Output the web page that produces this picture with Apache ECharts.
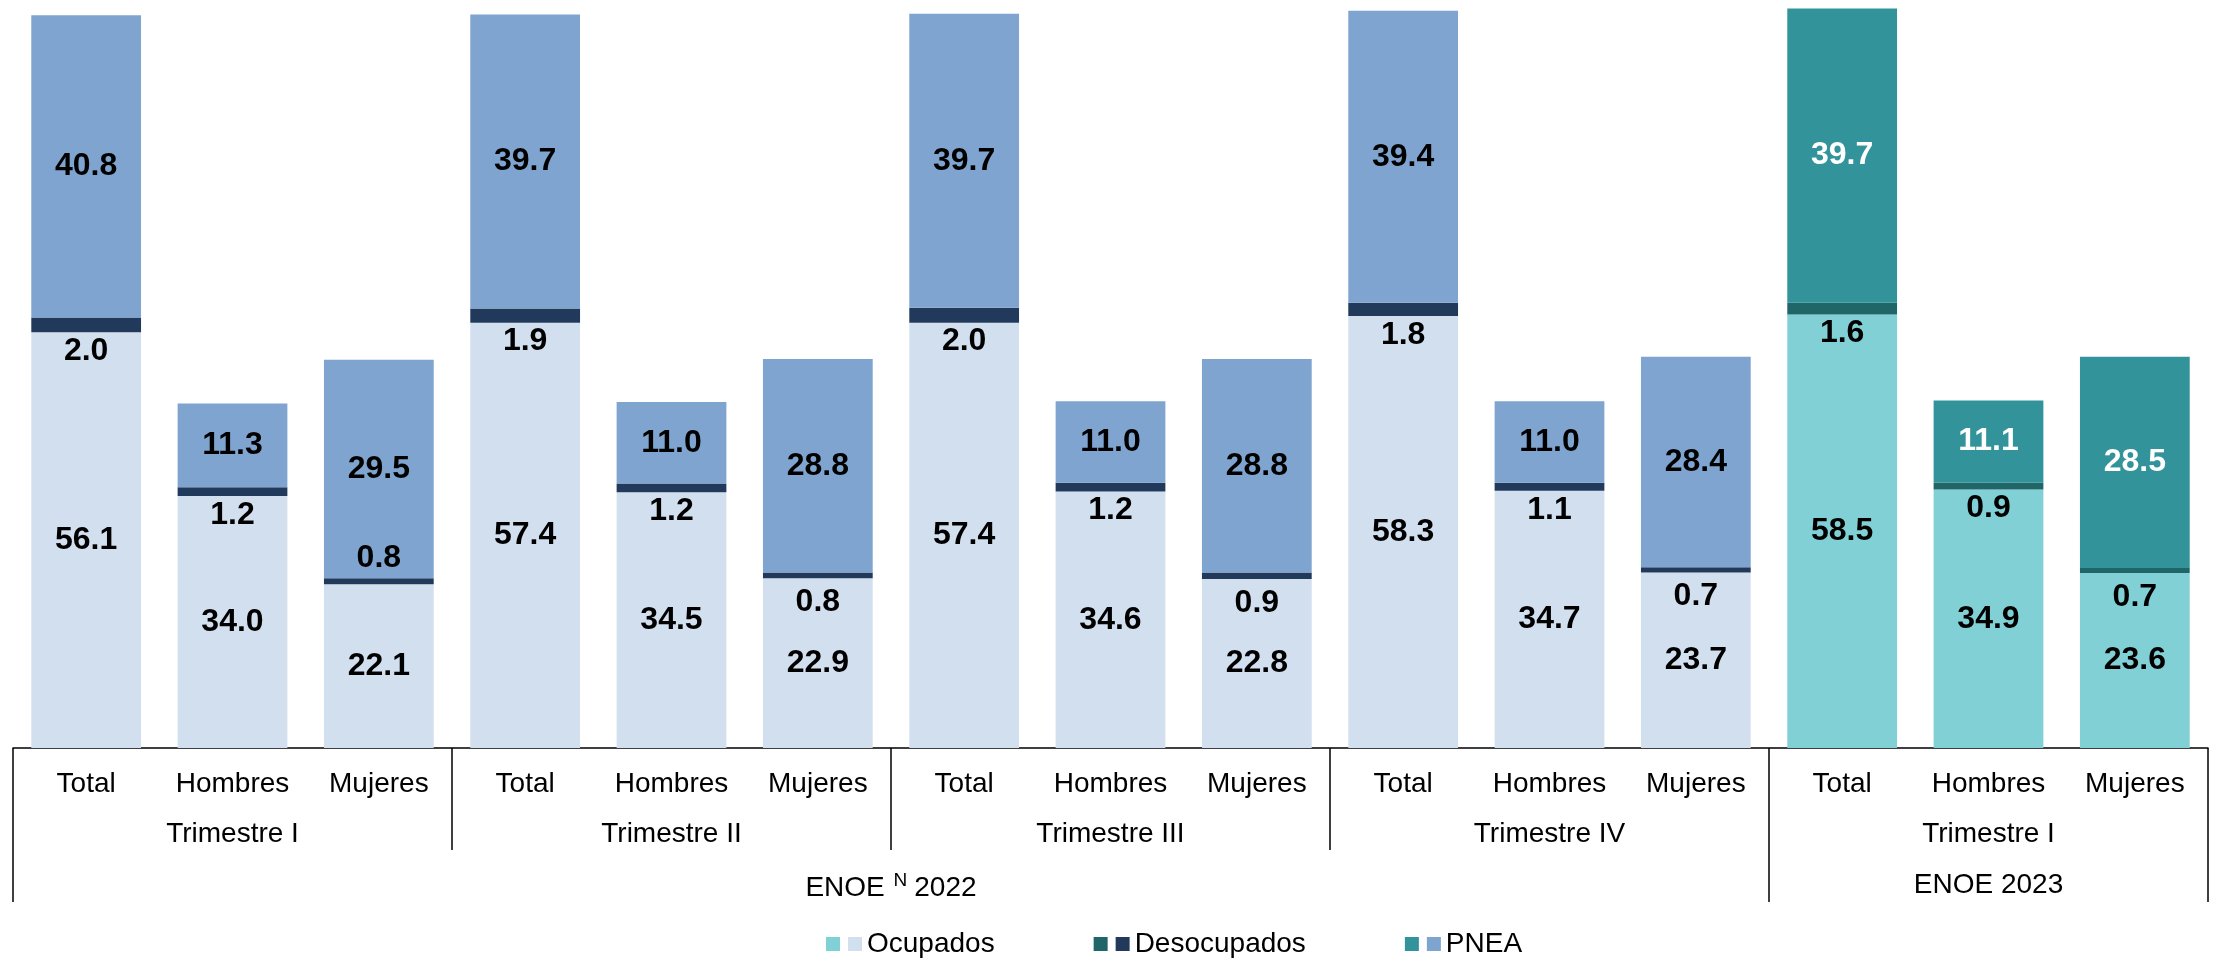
<!DOCTYPE html>
<html>
<head>
    <meta charset="UTF-8">
    <title>ENOE 2022-2023</title>
    <script src="https://cdn.jsdelivr.net/npm/echarts@6/dist/echarts.min.js"></script>
    <style>
        html, body { margin: 0; padding: 0; background: #fff; }
        #chart { width: 2216px; height: 960px; }
    </style>
</head>
<body>
    <div id="chart"></div>

    <script>
        // data (millions of people)
        var subCats = ['Total', 'Hombres', 'Mujeres'];
        var quarters = ['Trimestre I', 'Trimestre II', 'Trimestre III', 'Trimestre IV', 'Trimestre I'];
        var surveys = ['ENOE 2022', 'ENOE 2023'];
        var groupsLegend = ['Ocupados', 'Desocupados', 'PNEA'];

        var ocupados    = [56.1, 34.0, 22.1, 57.4, 34.5, 22.9, 57.4, 34.6, 22.8, 58.3, 34.7, 23.7, 58.5, 34.9, 23.6];
        var desocupados = [2.0, 1.2, 0.8, 1.9, 1.2, 0.8, 2.0, 1.2, 0.9, 1.8, 1.1, 0.7, 1.6, 0.9, 0.7];
        var pnea        = [40.8, 11.3, 29.5, 39.7, 11.0, 28.8, 39.7, 11.0, 28.8, 39.4, 11.0, 28.4, 39.7, 11.1, 28.5];

        var FONT = 'Liberation Sans, Arial, sans-serif';
        var split2022 = 12;   // first 12 bars belong to ENOE 2022

        var categories = [];
        quarters.forEach(function (q, qi) {
            subCats.forEach(function (s) { categories.push(qi + '|' + s); });
        });

        function part(values, is2023, labelFn) {
            return values.map(function (v, i) {
                var inYear = is2023 ? i >= split2022 : i < split2022;
                if (!inYear) return '-';
                var item = { value: v };
                if (labelFn) item.label = labelFn(i);
                return item;
            });
        }

        // desocupados label sits below the thin segment, except Trimestre I Mujeres
        function desLabel(i) {
            if (i === 2) return { position: 'top', distance: 4 };
            if (i % 3 === 2) return { position: 'bottom', distance: 8 };
            return { position: 'bottom', distance: 3 };
        }

        function makeSeries(name, values, is2023, color, labelColor, labelPos, labelFn) {
            return {
                name: name,
                type: 'bar',
                stack: 'total',
                barCategoryGap: '25%',
                data: part(values, is2023, labelFn),
                itemStyle: { color: color },
                label: {
                    show: true,
                    position: labelPos,
                    distance: 4,
                    color: labelColor,
                    fontFamily: FONT,
                    fontWeight: 'bold',
                    fontSize: 32,
                    formatter: function (p) { return p.value.toFixed(1); }
                }
            };
        }

        var series = [
            makeSeries('Ocupados', ocupados, false, '#d2dfef', '#000', 'inside'),
            makeSeries('Ocupados 2023', ocupados, true, '#81d0d6', '#000', 'inside'),
            makeSeries('Desocupados', desocupados, false, '#213a5c', '#000', 'bottom', desLabel),
            makeSeries('Desocupados 2023', desocupados, true, '#206567', '#000', 'bottom', desLabel),
            makeSeries('PNEA', pnea, false, '#7ea4cf', '#000', 'inside'),
            makeSeries('PNEA 2023', pnea, true, '#32939a', '#fff', 'inside')
        ];

        // two legends laid over each other: the 2023 squares (with hidden text, so the
        // spacing matches) and, just to their right, the 2022 squares with the names
        function legendOf(names, left, textColor, suffix) {
            return {
                left: left,
                top: 925,
                itemWidth: 14,
                itemHeight: 14,
                itemGap: 121,
                icon: 'rect',
                selectedMode: false,
                data: names.map(function (n) { return n + suffix; }),
                textStyle: { fontFamily: FONT, fontSize: 28, color: textColor },
                formatter: function (name) { return name.replace(' 2023', ''); }
            };
        }

        var chart = echarts.init(document.getElementById('chart'), null, { renderer: 'canvas' });

        chart.setOption({
            animation: false,
            backgroundColor: '#fff',
            grid: { left: 13, right: 8, top: 7, bottom: 212, containLabel: false },
            legend: [
                legendOf(groupsLegend, 821, 'rgba(0,0,0,0)', ' 2023'),
                legendOf(groupsLegend, 843, '#000', '')
            ],
            xAxis: [
                {
                    type: 'category',
                    position: 'bottom',
                    data: categories,
                    axisLine: { show: true, lineStyle: { color: '#000', width: 1.5 } },
                    axisTick: { show: false },
                    axisLabel: {
                        interval: 0,
                        margin: 22,
                        color: '#000',
                        fontFamily: FONT,
                        fontSize: 28,
                        formatter: function (v) { return v.split('|')[1]; }
                    }
                },
                {
                    type: 'category',
                    position: 'bottom',
                    data: quarters.map(function (q, i) { return String(i); }),
                    axisLine: { show: false },
                    axisTick: { show: true, length: 102, lineStyle: { color: '#000', width: 1.5 } },
                    axisLabel: {
                        interval: 0,
                        margin: 72,
                        color: '#000',
                        fontFamily: FONT,
                        fontSize: 28,
                        formatter: function (v, idx) { return quarters[idx]; }
                    }
                },
                {
                    type: 'value',
                    position: 'bottom',
                    min: 0,
                    max: 15,
                    axisLine: { show: false },
                    splitLine: { show: false },
                    axisTick: { show: true, customValues: [0, 12, 15], length: 154, lineStyle: { color: '#000', width: 1.5 } },
                    axisLabel: {
                        customValues: [6, 13.5],
                        margin: 123,
                        color: '#000',
                        fontFamily: FONT,
                        fontSize: 28,
                        formatter: function (v) {
                            if (v < 12) return '{a|ENOE }{s|N}{a|2022}';
                            return '{a|' + surveys[1] + '}';
                        },
                        rich: {
                            a: { fontFamily: FONT, fontSize: 28, color: '#000' },
                            s: { fontFamily: FONT, fontSize: 19, color: '#000', padding: [0, 7, 16, 1] }
                        }
                    }
                }
            ],
            yAxis: { type: 'value', min: 0, max: 100, show: false },
            series: series
        });
    </script>
</body>
</html>
